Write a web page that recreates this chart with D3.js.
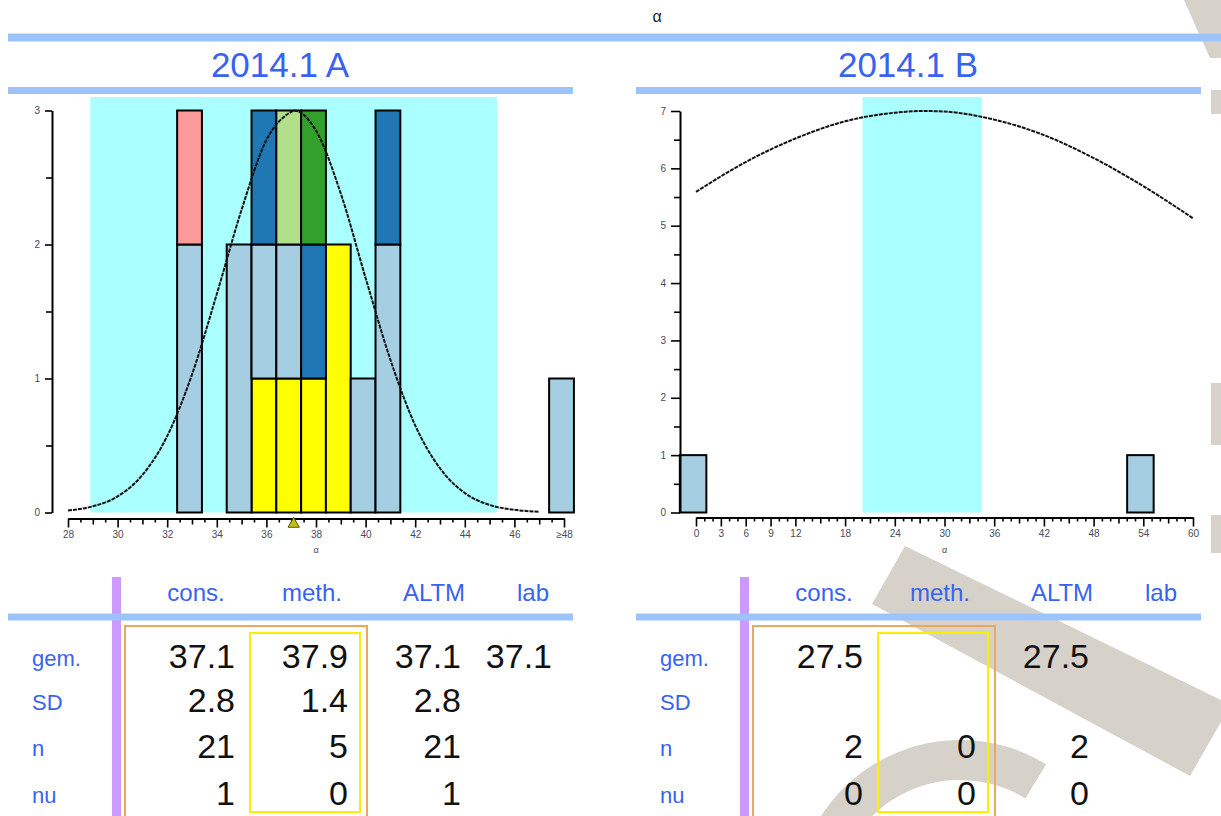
<!DOCTYPE html>
<html>
<head>
<meta charset="utf-8">
<script src="https://cdn.jsdelivr.net/npm/d3@7"></script>
<style>
  body { margin: 0; background: #fff; }
  text { font-family: "Liberation Sans", Arial, sans-serif; }
</style>
</head>
<body>
<svg id="chart" width="1221" height="816"></svg>
<script>
// ---- data ----
const panelTitles = ["2014.1 A", "2014.1 B"];
const stackKeys = ["yellow", "lightBlue", "darkBlue", "lightGreen", "darkGreen", "pink"];
const stackColors = ["#ffff00", "#a6cee3", "#1f78b4", "#b2df8a", "#33a02c", "#fb9a99"];

// panel A: bin starts (width 1) and counts per group
const binsA = [32.4, 34.4, 35.4, 36.4, 37.4, 38.4, 39.4, 40.4, 47.4];
const yellowA = [0, 0, 1, 1, 1, 2, 0, 0, 0];
const lightBlueA = [2, 2, 1, 1, 0, 0, 1, 2, 1];
const darkBlueA = [0, 0, 1, 0, 1, 0, 0, 1, 0];
const lightGreenA = [0, 0, 0, 1, 0, 0, 0, 0, 0];
const darkGreenA = [0, 0, 0, 0, 1, 0, 0, 0, 0];
const pinkA = [1, 0, 0, 0, 0, 0, 0, 0, 0];
const bandA = [28.9, 45.3];
const markerA = 37.1;
const curveAx = [28, 29, 30, 31, 32, 33, 34, 35, 36, 37, 37.1, 38, 39, 40, 41, 42, 43, 44, 45, 46, 47];
const curveAy = [0.015, 0.046, 0.12, 0.28, 0.57, 1.03, 1.63, 2.26, 2.78, 2.99, 3.0, 2.85, 2.38, 1.75, 1.14, 0.65, 0.33, 0.145, 0.056, 0.02, 0.006];
const xTicksA = [28, 30, 32, 34, 36, 38, 40, 42, 44, 46, 48];
const yTicksA = [0, 1, 2, 3];

// panel B: bin starts (width 3.2) and counts
const binsB = [-1.95, 52.05];
const lightBlueB = [1, 1];
const bandB = [20.1, 34.5];
const curveBx = [0, 6, 12, 18, 24, 27.5, 30, 36, 42, 48, 54, 60];
const curveBy = [5.59, 6.11, 6.52, 6.82, 6.97, 7.0, 6.99, 6.85, 6.58, 6.18, 5.69, 5.13];
const xTicksB = [0, 3, 6, 9, 12, 18, 24, 30, 36, 42, 48, 54, 60];
const yTicksB = [0, 1, 2, 3, 4, 5, 6, 7];

// tables
const colLabels = ["cons.", "meth.", "ALTM", "lab"];
const rowLabels = ["gem.", "SD", "n", "nu"];
const tableA = [["37.1", "37.9", "37.1", "37.1"], ["2.8", "1.4", "2.8", ""], ["21", "5", "21", ""], ["1", "0", "1", ""]];
const tableB = [["27.5", "", "27.5", ""], ["", "", "", ""], ["2", "0", "2", ""], ["0", "0", "0", ""]];

// ---- drawing ----
const svg = d3.select("#chart");
const lineBlue = "#9dc3fb";
const labelBlue = "#3a62f0";
const shift = 628; // panel B sits this far right of panel A

svg.append("rect").attr("width", 1221).attr("height", 816).attr("fill", "#fff");

// watermark behind everything (right side)
const wm = svg.append("g").attr("fill", "#d6d2ca");
wm.append("path").attr("d", "M905,546 L872,604 L1190,776 L1221,722 L1221,700 Z");
wm.append("path")
  .attr("transform", "translate(960,905)")
  .attr("d", d3.arc().innerRadius(125).outerRadius(165).startAngle(-1.45).endAngle(0.55)());
wm.append("path").attr("d", "M1184,0 L1221,0 L1221,58 L1210,58 Z");
wm.append("rect").attr("x", 1211).attr("y", 90).attr("width", 10).attr("height", 24);
wm.append("rect").attr("x", 1211).attr("y", 383).attr("width", 10).attr("height", 62);
wm.append("rect").attr("x", 1211).attr("y", 515).attr("width", 10).attr("height", 38);

// overall header
svg.append("text").attr("x", 657).attr("y", 22).attr("text-anchor", "middle")
  .style("font-size", "16px").attr("fill", "#222").text("α");
svg.append("rect").attr("x", 8).attr("y", 33.5).attr("width", 1213).attr("height", 8).attr("fill", lineBlue);

function drawHist(p) {
  const g = svg.append("g");
  const x = p.x, y = p.y;

  g.append("text").attr("x", p.ox + 280).attr("y", 77).attr("text-anchor", "middle")
    .style("font-size", "35px").attr("fill", labelBlue).text(p.title);
  g.append("rect").attr("x", p.ox + 8).attr("y", 87).attr("width", 565).attr("height", 7).attr("fill", lineBlue);

  // +/- band
  g.append("rect")
    .attr("x", x(p.band[0])).attr("y", 97)
    .attr("width", x(p.band[1]) - x(p.band[0]))
    .attr("height", y(0) - 97)
    .attr("fill", "#aaffff");

  // stacked bars
  const series = d3.stack().keys(stackKeys)(p.rows);
  series.forEach((s, k) => {
    g.append("g").selectAll("rect")
      .data(s.filter(d => d[1] > d[0]))
      .join("rect")
      .attr("x", d => x(d.data.x0))
      .attr("width", d => x(d.data.x0 + p.binW) - x(d.data.x0))
      .attr("y", d => y(d[1]))
      .attr("height", d => y(d[0]) - y(d[1]))
      .attr("fill", stackColors[k])
      .attr("stroke", "#000")
      .attr("stroke-width", 2);
  });

  // fitted curve
  const pts = p.cx.map((v, i) => [v, p.cy[i]]);
  g.append("path").datum(pts)
    .attr("fill", "none").attr("stroke", "#111").attr("stroke-width", 2)
    .attr("stroke-dasharray", "4,1")
    .attr("d", d3.line().x(d => x(d[0])).y(d => y(d[1])).curve(d3.curveMonotoneX));

  // y axis
  const yAx = g.append("g").attr("transform", `translate(${p.yAxisX},0)`);
  yAx.call(d3.axisLeft(y).tickValues(p.yTicks).tickSize(p.yTick).tickSizeOuter(0).tickPadding(5)
    .tickFormat(d3.format("d")));
  yAx.append("g").call(d3.axisLeft(y).tickValues(p.yTicks.slice(1).map(v => v - 0.5)).tickSize(p.yMinor).tickFormat(""))
    .select(".domain").remove();

  // x axis
  const xAx = g.append("g").attr("transform", `translate(0,${p.xAxisY})`);
  xAx.call(d3.axisBottom(x).tickValues(p.xTicks).tickSize(9).tickSizeOuter(0).tickPadding(3)
    .tickFormat(p.xFormat));
  xAx.append("g").call(d3.axisBottom(x).tickValues(p.xMinorMid).tickSize(6).tickFormat(""))
    .select(".domain").remove();
  xAx.append("g").call(d3.axisBottom(x).tickValues(p.xMinorSmall).tickSize(4).tickFormat(""))
    .select(".domain").remove();

  g.selectAll(".tick line").attr("stroke", "#000").attr("stroke-width", 1.6);
  g.selectAll(".domain").attr("stroke", "#000").attr("stroke-width", 2);
  g.selectAll(".tick text").style("font-size", "10px").attr("fill", "#4a4a5a");

  g.append("text").attr("x", (x.range()[0] + x.range()[1]) / 2).attr("y", 553)
    .attr("text-anchor", "middle").style("font-size", "9px").attr("fill", "#4a4a5a").text("α");
  return g;
}

// panel A
const rowsA = binsA.map((b, i) => ({
  x0: b, yellow: yellowA[i], lightBlue: lightBlueA[i], darkBlue: darkBlueA[i],
  lightGreen: lightGreenA[i], darkGreen: darkGreenA[i], pink: pinkA[i]
}));
const xA = d3.scaleLinear().domain([28, 48]).range([68, 564]);
const yA = d3.scaleLinear().domain([0, 3]).range([512.5, 110.5]);
const gA = drawHist({
  ox: 0, title: panelTitles[0], x: xA, y: yA, band: bandA, rows: rowsA, binW: 1,
  cx: curveAx, cy: curveAy, yAxisX: 52, xAxisY: 518.5, yTicks: yTicksA, yTick: 7, yMinor: 6,
  xTicks: xTicksA, xFormat: d => d === 48 ? "≥48" : d,
  xMinorMid: d3.range(29, 48, 2),
  xMinorSmall: d3.range(28.5, 48, 1)
});
// mean marker under the axis
gA.append("path")
  .attr("d", d3.symbol(d3.symbolTriangle, 55)())
  .attr("transform", `translate(${xA(markerA)},524)`)
  .attr("fill", "#c8be10").attr("stroke", "#55550a").attr("stroke-width", 1);

// panel B
const rowsB = binsB.map((b, i) => ({
  x0: b, yellow: 0, lightBlue: lightBlueB[i], darkBlue: 0, lightGreen: 0, darkGreen: 0, pink: 0
}));
const xB = d3.scaleLinear().domain([0, 60]).range([696, 1193]);
const yB = d3.scaleLinear().domain([0, 7]).range([512.5, 111]);
drawHist({
  ox: shift, title: panelTitles[1], x: xB, y: yB, band: bandB, rows: rowsB, binW: 3.2,
  cx: curveBx, cy: curveBy, yAxisX: 680, xAxisY: 517.5, yTicks: yTicksB, yTick: 9, yMinor: 6,
  xTicks: xTicksB, xFormat: d => d,
  xMinorMid: d3.range(15, 60, 6),
  xMinorSmall: d3.range(1, 60).filter(v => v % 3 !== 0)
});

// tables
function drawTable(ox, values) {
  const g = svg.append("g").attr("transform", `translate(${ox},0)`);
  g.append("rect").attr("x", 112).attr("y", 577).attr("width", 9).attr("height", 239).attr("fill", "#cc99ff");
  g.append("rect").attr("x", 8).attr("y", 613.5).attr("width", 565).attr("height", 7).attr("fill", lineBlue);
  g.append("rect").attr("x", 125).attr("y", 626).attr("width", 242).attr("height", 210)
    .attr("fill", "none").attr("stroke", "#eaa862").attr("stroke-width", 2);
  g.append("rect").attr("x", 250).attr("y", 633).attr("width", 110).attr("height", 179)
    .attr("fill", "none").attr("stroke", "#ffee00").attr("stroke-width", 2);

  const colCenter = [196, 312, 434, 533];
  const colRight = [235, 348, 461, 552];
  const rowBase = [668, 712, 758, 805];

  g.selectAll(".hdr").data(colLabels).join("text")
    .attr("x", (d, i) => colCenter[i]).attr("y", 601).attr("text-anchor", "middle")
    .style("font-size", "24px").attr("fill", labelBlue).text(d => d);
  g.selectAll(".rl").data(rowLabels).join("text")
    .attr("x", 32).attr("y", (d, i) => rowBase[i] - 2)
    .style("font-size", "22px").attr("fill", labelBlue).text(d => d);
  values.forEach((row, r) => {
    g.append("g").selectAll("text").data(row).join("text")
      .attr("x", (d, i) => colRight[i]).attr("y", rowBase[r]).attr("text-anchor", "end")
      .style("font-size", "34px").attr("fill", "#111").text(d => d);
  });
}
drawTable(0, tableA);
drawTable(shift, tableB);
</script>
</body>
</html>
